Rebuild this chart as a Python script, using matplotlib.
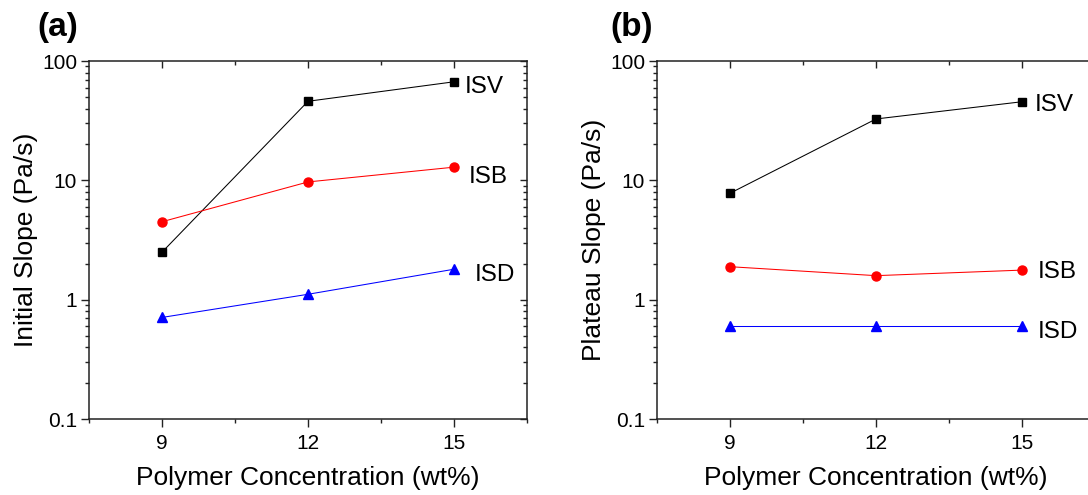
import numpy as np
import matplotlib.pyplot as plt
from matplotlib.ticker import LogLocator, FixedLocator, FuncFormatter, NullFormatter

plt.rcParams['font.family'] = ['Liberation Sans', 'DejaVu Sans']

# data
conc = [9, 12, 15]
initial_isv = [2.5, 46, 67]
initial_isb = [4.5, 9.7, 12.9]
initial_isd = [0.71, 1.11, 1.8]
plateau_isv = [7.8, 32.7, 45.6]
plateau_isb = [1.89, 1.59, 1.77]
plateau_isd = [0.6, 0.6, 0.6]

fig = plt.figure(figsize=(10.88, 4.95), dpi=100)
ax1 = fig.add_axes([0.0818, 0.1535, 0.4026, 0.7232])
ax2 = fig.add_axes([0.6039, 0.1535, 0.4026, 0.7232])


def fmt(v, pos):
    return "%g" % v


def style(ax, ylabel):
    ax.set_yscale("log")
    ax.set_ylim(0.1, 100)
    ax.set_xlim(7.5, 16.5)
    ax.xaxis.set_major_locator(FixedLocator([9, 12, 15]))
    ax.xaxis.set_minor_locator(FixedLocator([7.5, 10.5, 13.5, 16.5]))
    ax.yaxis.set_major_locator(LogLocator(base=10, numticks=10))
    ax.yaxis.set_minor_locator(LogLocator(base=10, subs=np.arange(2, 10), numticks=10))
    ax.yaxis.set_major_formatter(FuncFormatter(fmt))
    ax.yaxis.set_minor_formatter(NullFormatter())
    ax.tick_params(which="both", direction="out", top=False, right=False,
                   labelsize=15, width=1, color="#222222")
    ax.tick_params(which="major", length=5.5)
    ax.tick_params(which="minor", length=3)
    ax.tick_params(axis="x", which="major", pad=5)
    ax.tick_params(axis="y", which="major", pad=3)
    for s in ax.spines.values():
        s.set_linewidth(1.1)
        s.set_color("#222222")
    # inward mirror ticks on top/right
    sec_x = ax.secondary_xaxis("top")
    sec_x.xaxis.set_major_locator(FixedLocator([9, 12, 15]))
    sec_x.xaxis.set_minor_locator(FixedLocator([10.5, 13.5]))
    sec_x.tick_params(which="both", direction="in", labeltop=False, width=1, color="#222222")
    sec_x.tick_params(which="major", length=5)
    sec_x.tick_params(which="minor", length=3)
    sec_x.spines["top"].set_visible(False)
    sec_y = ax.secondary_yaxis("right")
    sec_y.yaxis.set_major_locator(LogLocator(base=10, numticks=10))
    sec_y.yaxis.set_minor_locator(LogLocator(base=10, subs=np.arange(2, 10), numticks=10))
    sec_y.tick_params(which="both", direction="in", labelright=False, width=1, color="#222222")
    sec_y.tick_params(which="major", length=5)
    sec_y.tick_params(which="minor", length=3)
    sec_y.spines["right"].set_visible(False)
    ax.set_xlabel("Polymer Concentration (wt%)", fontsize=19, labelpad=10)
    ax.set_ylabel(ylabel, fontsize=19, labelpad=3)


# panel a
ax1.plot(conc, initial_isv, color="black", lw=0.75, marker="s", ms=5.5)
ax1.plot(conc, initial_isb, color="red", lw=0.75, marker="o", ms=6.5)
ax1.plot(conc, initial_isd, color="blue", lw=0.75, marker="^", ms=7)
style(ax1, "Initial Slope (Pa/s)")
ax1.text(15.22, 60.5, "ISV", fontsize=17.5, va="center", ha="left")
ax1.text(15.3, 10.7, "ISB", fontsize=17.5, va="center", ha="left")
ax1.text(15.42, 1.6, "ISD", fontsize=17.5, va="center", ha="left")

# panel b
ax2.plot(conc, plateau_isv, color="black", lw=0.75, marker="s", ms=5.5)
ax2.plot(conc, plateau_isb, color="red", lw=0.75, marker="o", ms=6.5)
ax2.plot(conc, plateau_isd, color="blue", lw=0.75, marker="^", ms=7)
style(ax2, "Plateau Slope (Pa/s)")
ax2.text(15.27, 42.8, "ISV", fontsize=17.5, va="center", ha="left")
ax2.text(15.33, 1.70, "ISB", fontsize=17.5, va="center", ha="left")
ax2.text(15.33, 0.54, "ISD", fontsize=17.5, va="center", ha="left")

fig.text(0.034, 0.945, "(a)", fontsize=24, fontweight="bold", ha="left", va="center")
fig.text(0.561, 0.945, "(b)", fontsize=24, fontweight="bold", ha="left", va="center")

fig.savefig("out.png", dpi=100)
